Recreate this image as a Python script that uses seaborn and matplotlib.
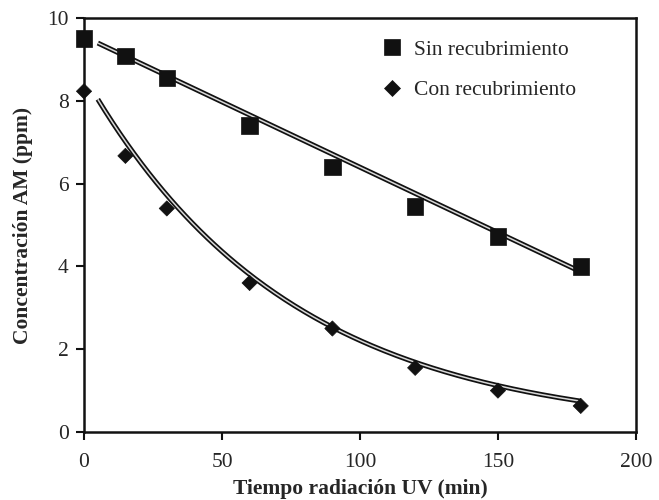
import numpy as np
import pandas as pd
import seaborn as sns
import matplotlib
matplotlib.use("Agg")
import matplotlib.pyplot as plt

# datos
tiempo = [0, 15, 30, 60, 90, 120, 150, 180]
sin_recubrimiento = [9.5, 9.08, 8.55, 7.4, 6.4, 5.45, 4.72, 4.0]
con_recubrimiento = [8.23, 6.67, 5.4, 3.6, 2.5, 1.55, 1.0, 0.63]

# valores de las lineas de tendencia
tiempo_tend = [5, 15, 30, 60, 90, 120, 150, 180]
tend_sin = [9.4, 9.1, 8.6, 7.65, 6.7, 5.75, 4.8, 3.9]
tend_con = [8.1, 6.9, 5.7, 3.75, 2.6, 1.7, 1.15, 0.72]

sns.set_style("ticks")
plt.rcParams['font.family'] = ['Liberation Serif', 'DejaVu Serif']

df = pd.DataFrame({
    'tiempo': tiempo * 2,
    'conc': sin_recubrimiento + con_recubrimiento,
    'serie': ['Sin recubrimiento'] * len(tiempo) + ['Con recubrimiento'] * len(tiempo),
})

fig = plt.figure(figsize=(6.59, 5.0), dpi=100)
ax = fig.add_axes([0.1275, 0.136, 0.8375, 0.828])

# tendencia lineal y exponencial, dibujadas como linea doble
xs = np.linspace(5, 180, 200)
fit_sin = np.polyval(np.polyfit(tiempo_tend, tend_sin, 1), xs)
k, lna = np.polyfit(tiempo_tend, np.log(tend_con), 1)
fit_con = np.exp(lna + k * xs)

for yfit in (fit_sin, fit_con):
    ax.plot(xs, yfit, color='#111111', lw=3.6, solid_capstyle='butt', zorder=2)
    ax.plot(xs, yfit, color='#d8d8d8', lw=1.1, solid_capstyle='butt', zorder=2)

sns.scatterplot(data=df, x='tiempo', y='conc', hue='serie', style='serie',
                markers={'Sin recubrimiento': 's', 'Con recubrimiento': 'D'},
                palette={'Sin recubrimiento': '#111111', 'Con recubrimiento': '#111111'},
                size='serie', sizes={'Sin recubrimiento': 140, 'Con recubrimiento': 60},
                edgecolor='#111111', linewidth=0.5, ax=ax, zorder=3, legend='full',
                clip_on=False)

ax.set_xlim(0, 200)
ax.set_ylim(0, 10)
ax.set_xticks([0, 50, 100, 150, 200])
ax.set_yticks([0, 2, 4, 6, 8, 10])
ax.tick_params(direction='out', length=6, width=1.5, labelsize=15.5, color='#111111', pad=5)
ax.tick_params(axis='x', pad=9)
for s in ax.spines.values():
    s.set_linewidth(1.8)
    s.set_color('#111111')
ax.set_xlabel('Tiempo radiación UV (min)', fontsize=15.5, fontweight='bold', labelpad=5)
ax.set_ylabel('Concentración AM (ppm)', fontsize=15.5, fontweight='bold', labelpad=10)

h, l = ax.get_legend_handles_labels()
ax.legend(h, l, loc='upper left', bbox_to_anchor=(0.484, 0.995), frameon=False,
          fontsize=15.5, labelspacing=0.95, handletextpad=0.0, markerscale=1.0)

fig.savefig('out.png', dpi=100)
